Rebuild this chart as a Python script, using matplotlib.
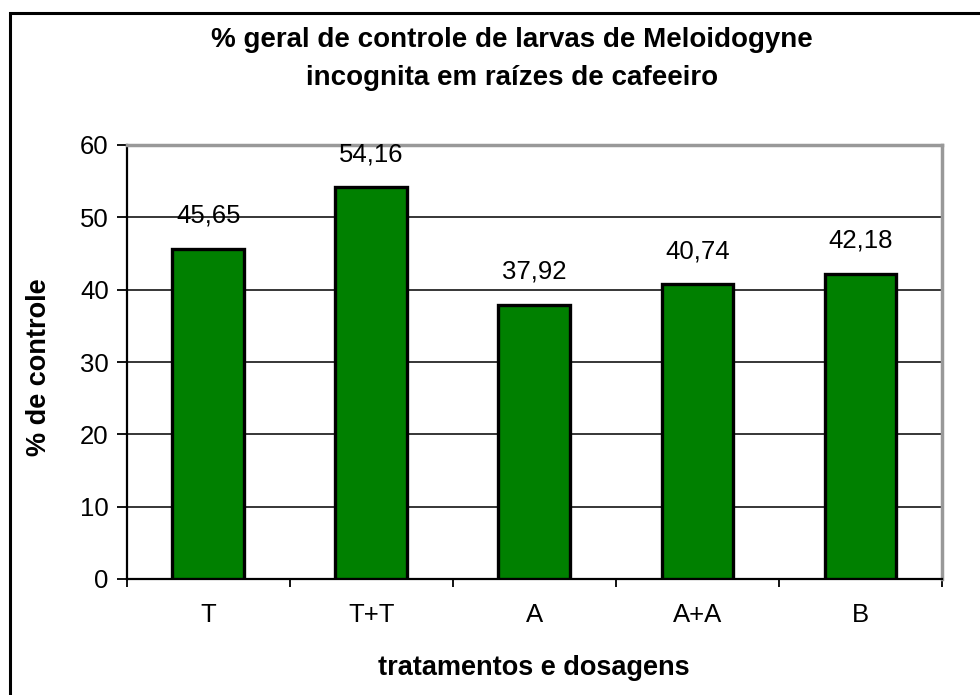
import matplotlib
matplotlib.use("Agg")
import matplotlib.pyplot as plt
from matplotlib.patches import Rectangle

categories = ["T", "T+T", "A", "A+A", "B"]
values = [45.65, 54.16, 37.92, 40.74, 42.18]
value_labels = ["45,65", "54,16", "37,92", "40,74", "42,18"]
yticks = [0, 10, 20, 30, 40, 50, 60]

plt.rcParams['font.family'] = ['Liberation Sans', 'DejaVu Sans']

W, H = 980, 695
fig = plt.figure(figsize=(W / 100, H / 100), dpi=100)
ax = fig.add_axes([126.7 / W, 1 - 579 / H, (942 - 126.7) / W, (579 - 145) / H])

x = list(range(len(categories)))
ax.bar(x, values, width=0.44, color="#008000", edgecolor="black", linewidth=2.4, zorder=3)
for xi, v, lab in zip(x, values, value_labels):
    ax.annotate(lab, (xi, v), xytext=(0, 26), textcoords="offset pixels",
                ha="center", va="baseline", fontsize=18.5, zorder=4)

ax.set_xlim(-0.5, len(categories) - 0.5)
ax.set_ylim(0, 60)
ax.set_yticks(yticks)
ax.set_yticklabels([str(t) for t in yticks], fontsize=18.5)
ax.yaxis.grid(True, color="black", linewidth=1.1, zorder=1)
ax.set_axisbelow(True)

ax.set_xticks([i + 0.5 for i in range(-1, len(categories))])
ax.set_xticklabels([])
ax.set_xticks(x, minor=True)
ax.set_xticklabels(categories, minor=True, fontsize=18.5)
ax.tick_params(axis="x", which="minor", length=0, pad=17)
ax.tick_params(axis="x", which="major", length=6, width=1.3, direction="out", color="black")
ax.tick_params(axis="y", length=7, width=1.3, direction="out", pad=6)

for s in ["top", "right"]:
    ax.spines[s].set_color("#999999")
    ax.spines[s].set_linewidth(2.5)
for s in ["left", "bottom"]:
    ax.spines[s].set_color("black")
    ax.spines[s].set_linewidth(1.6)

fig.text(39 / W, 1 - 367 / H, "% de controle", rotation=90, ha="center", va="center",
         fontsize=19.5, fontweight="bold")
fig.text(534 / W, 1 - 668 / H, "tratamentos e dosagens", ha="center", va="center",
         fontsize=19.5, fontweight="bold")

fig.text(512 / W, 1 - 47 / H, "% geral de controle de larvas de Meloidogyne",
         ha="center", va="baseline", fontsize=20, fontweight="bold")
fig.text(512 / W, 1 - 85 / H, "incognita em raízes de cafeeiro",
         ha="center", va="baseline", fontsize=20, fontweight="bold")

fig.patches.append(Rectangle((10 / W, -0.01), 1.0, 1 - 13 / H + 0.01, transform=fig.transFigure,
                             fill=False, edgecolor="black", linewidth=2.2))

fig.savefig("out.png", dpi=100, facecolor="white")
